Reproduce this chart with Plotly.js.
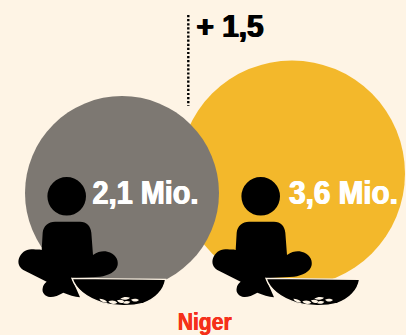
<!DOCTYPE html>
<html>
<head>
<meta charset="utf-8">
<script src="https://cdn.plot.ly/plotly-3.0.1.min.js"></script>
<style>
html,body{margin:0;padding:0;background:#fef4e5;overflow:hidden}
.annotation-text{transform-box:fill-box;transform-origin:center}
</style>
</head>
<body>
<div id="chart" style="width:406px;height:335px"></div>
<script>
// Values, in millions of people
const years = ['before', 'after'];
const values = [2.1, 3.6];
const country = 'Niger';

// Circle placement on the canvas-sized axes (drawn back to front: after, before)
const circleX = [122, 292];
const circleY = [193, 173.5];
const circleD = [194, 226];
const circleColors = ['#7d7872', '#f3b82b'];
const labelX = [145.5, 343.5];
const labelY = [192.5, 192.5];

const fmt = v => v.toFixed(1).replace('.', ',');

// Seated figure with bowl, outlined at three times the drawn size
const figure = 'M125 270 L128 218 C130 198 145 185 165 185 L240 185 C260 185 272 198 274 218 L279 285 C295 274 310 272 322 275 C345 280 356 298 353 315 C350 335 325 347 300 350 L215 355 L240 412 C225 410 205 405 190 398 C175 407 160 412 150 411 C135 410 125 398 128 385 C129 376 134 370 140 365 L70 330 C58 323 52 310 57 295 C63 277 80 265 100 268 C110 269 118 268 125 270 Z';
const bowl = 'M216 355 L497 358 C492 392 465 418 430 430 C395 440 345 440 305 428 C262 414 228 390 216 355 Z';
const grains = 'M298 416 C308 416 318 420 322 427 C312 429 302 425 298 416 Z M325 424 C335 420 346 421 352 428 C343 434 332 433 325 424 Z M351 421 C360 417 370 419 374 425 C366 431 356 430 351 421 Z M361 416 C370 410 381 410 390 413 C383 420 370 421 361 416 Z M367 428 C375 422 383 422 391 425 C385 433 374 433 367 428 Z M393 419 C402 414 411 416 417 420 C409 427 400 426 393 419 Z';

function place(path, dx, dy) {
  return path.replace(/(-?[\d.]+) (-?[\d.]+)/g, (m, a, b) =>
    (a / 3 + dx).toFixed(2) + ' ' + (b / 3 + dy).toFixed(2));
}

const shapes = [];
[0, 194].forEach(dx => {
  shapes.push({type: 'path', xref: 'x', yref: 'y', path: place(figure, dx, 160), fillcolor: '#000', line: {width: 0}});
  shapes.push({type: 'path', xref: 'x', yref: 'y', path: place(bowl, dx, 160), fillcolor: '#000', line: {color: '#fef4e5', width: 1.4}});
  shapes.push({type: 'path', xref: 'x', yref: 'y', path: place(grains, dx, 160), fillcolor: '#fef4e5', line: {width: 0}});
  shapes.push({type: 'circle', xref: 'x', yref: 'y', x0: 47.4 + dx, x1: 86 + dx, y0: 177, y1: 215.6, fillcolor: '#000', line: {width: 0}});
});
// Dotted leader up to the difference label
shapes.push({type: 'line', xref: 'x', yref: 'y', x0: 188.3, x1: 188.3, y0: 15, y1: 106,
  line: {color: '#000', width: 2.4, dash: '2.2px,1.9px'}});

const face = '"Liberation Sans",sans-serif';
const labelFont = {family: face, size: 33, color: '#fff', shadow: '0.6px 0 0 #fff, -0.6px 0 0 #fff'};
const shared = {showarrow: false, xanchor: 'center', yanchor: 'middle', xref: 'x', yref: 'y'};

const annotations = [
  {...shared, x: labelX[0], y: labelY[0], text: '<b>' + fmt(values[0]) + ' Mio.</b>', font: labelFont},
  {...shared, x: labelX[1], y: labelY[1], text: '<b>' + fmt(values[1]) + ' Mio.</b>', font: labelFont},
  {...shared, x: 230.3, y: 26, text: '<b>+ ' + fmt(values[1] - values[0]) + '</b>',
    font: {family: face, color: '#000', size: 32, shadow: '0.8px 0 0 #000, -0.8px 0 0 #000'}},
  {...shared, x: 204.5, y: 321, text: '<b>' + country + '</b>',
    font: {family: face, color: '#f5301a', size: 24, shadow: '0.3px 0 0 #f5301a, -0.3px 0 0 #f5301a'}}
];
// Horizontal squeeze per label, giving the condensed look of the headline face
const squeeze = [0.875, 0.9, 0.93, 0.88];

const order = [1, 0];
const trace = {
  type: 'scatter', mode: 'markers', hoverinfo: 'skip', cliponaxis: false,
  x: order.map(i => circleX[i]),
  y: order.map(i => circleY[i]),
  marker: {size: order.map(i => circleD[i]), color: order.map(i => circleColors[i]), opacity: 1, line: {width: 0}}
};

const hiddenAxis = {visible: false, fixedrange: true, showgrid: false, zeroline: false};
Plotly.newPlot('chart', [trace], {
  width: 406, height: 335,
  margin: {l: 0, r: 0, t: 0, b: 0, pad: 0},
  paper_bgcolor: '#fef4e5', plot_bgcolor: '#fef4e5',
  xaxis: {...hiddenAxis, range: [0, 406]},
  yaxis: {...hiddenAxis, range: [335, 0]},
  showlegend: false, shapes, annotations
}, {displayModeBar: false, staticPlot: true}).then(gd => {
  gd.querySelectorAll('.annotation-text').forEach((el, i) => {
    el.style.transform = 'scaleX(' + squeeze[i] + ')';
  });
});
</script>
</body>
</html>
